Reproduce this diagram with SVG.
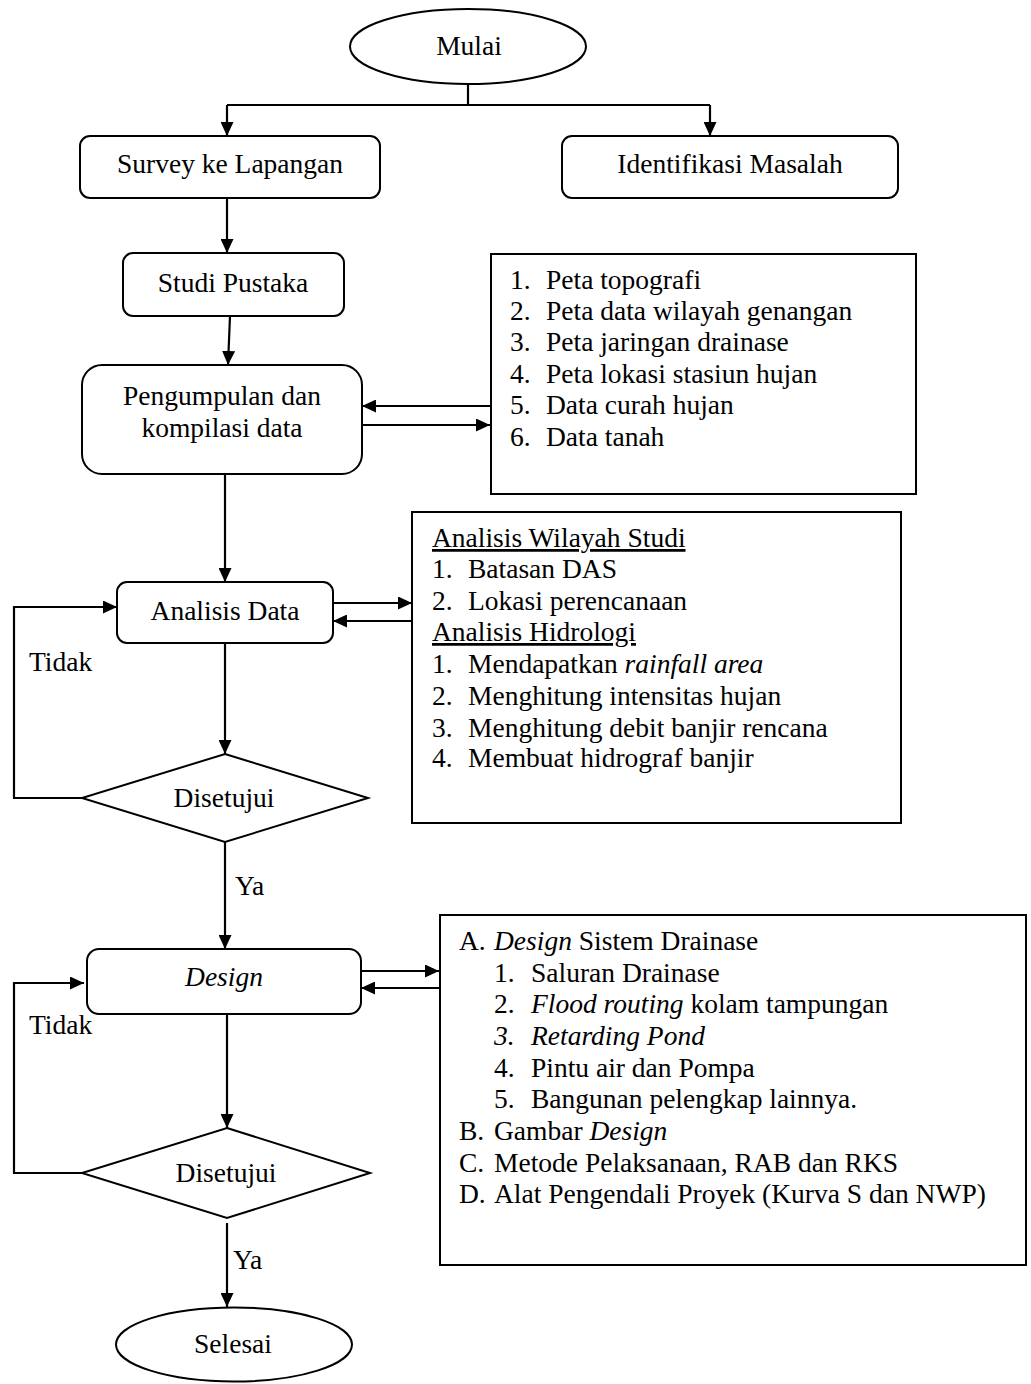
<svg xmlns="http://www.w3.org/2000/svg" width="1031" height="1384" viewBox="0 0 1031 1384">
<style>
  text { font-family: "Liberation Serif", "Times New Roman", serif; font-size: 27.5px; fill: #000; }
  .c { text-anchor: middle; }
  .shape { fill: #fff; stroke: #000; stroke-width: 2; }
  .conn { fill: none; stroke: #000; stroke-width: 2.2; }
  .i { font-style: italic; }
  .u { text-decoration: underline; }
</style>
<defs>
  <marker id="arr" viewBox="0 0 14 13" refX="14" refY="6.5" markerWidth="14" markerHeight="13" markerUnits="userSpaceOnUse" orient="auto">
    <path d="M0,0 L14,6.5 L0,13 Z" fill="#000"/>
  </marker>
</defs>
<rect width="1031" height="1384" fill="#fff"/>

<g id="connectors">
  <path class="conn" d="M468,84 L468,105"/>
  <path class="conn" d="M227,105 L710,105"/>
  <path class="conn" d="M227,105 L227,136" marker-end="url(#arr)"/>
  <path class="conn" d="M710,105 L710,136" marker-end="url(#arr)"/>
  <path class="conn" d="M227,198 L227,253" marker-end="url(#arr)"/>
  <path class="conn" d="M230,316 L228,365" marker-end="url(#arr)"/>
  <path class="conn" d="M490,406 L362,406" marker-end="url(#arr)"/>
  <path class="conn" d="M362,425 L490,425" marker-end="url(#arr)"/>
  <path class="conn" d="M225,474 L225,582" marker-end="url(#arr)"/>
  <path class="conn" d="M333,603 L412,603" marker-end="url(#arr)"/>
  <path class="conn" d="M412,621 L333,621" marker-end="url(#arr)"/>
  <path class="conn" d="M225,643 L225,754" marker-end="url(#arr)"/>
  <path class="conn" d="M82,798 L14,798 L14,607 L117,607" marker-end="url(#arr)"/>
  <path class="conn" d="M225,842 L225,949" marker-end="url(#arr)"/>
  <path class="conn" d="M361,971 L439,971" marker-end="url(#arr)"/>
  <path class="conn" d="M439,988 L361,988" marker-end="url(#arr)"/>
  <path class="conn" d="M227,1014 L227,1128" marker-end="url(#arr)"/>
  <path class="conn" d="M82,1173 L14,1173 L14,983 L84,983" marker-end="url(#arr)"/>
  <path class="conn" d="M227,1223 L227,1307" marker-end="url(#arr)"/>
  <text x="29" y="671">Tidak</text>
  <text x="29" y="1034">Tidak</text>
  <text x="235" y="895">Ya</text>
  <text x="233" y="1269">Ya</text>
</g>

<g id="mulai">
  <ellipse class="shape" cx="468" cy="46.5" rx="118" ry="37.5"/>
  <text class="c" x="469" y="55">Mulai</text>
</g>

<g id="survey">
  <rect class="shape" x="80" y="136" width="300" height="62" rx="10"/>
  <text class="c" x="230" y="173">Survey ke Lapangan</text>
</g>

<g id="identifikasi">
  <rect class="shape" x="562" y="136" width="336" height="62" rx="10"/>
  <text class="c" x="730" y="173">Identifikasi Masalah</text>
</g>

<g id="studi">
  <rect class="shape" x="123" y="253" width="221" height="63" rx="10"/>
  <text class="c" x="233" y="292">Studi Pustaka</text>
</g>

<g id="pengumpulan">
  <rect class="shape" x="82" y="365" width="280" height="109" rx="20"/>
  <text class="c" x="222" y="405">Pengumpulan dan</text>
  <text class="c" x="222" y="437">kompilasi data</text>
</g>

<g id="data-list">
  <rect class="shape" x="491" y="254" width="425" height="240"/>
  <text x="510" y="289">1.</text><text x="546" y="289">Peta topografi</text>
  <text x="510" y="320">2.</text><text x="546" y="320">Peta data wilayah genangan</text>
  <text x="510" y="351">3.</text><text x="546" y="351">Peta jaringan drainase</text>
  <text x="510" y="383">4.</text><text x="546" y="383">Peta lokasi stasiun hujan</text>
  <text x="510" y="414">5.</text><text x="546" y="414">Data curah hujan</text>
  <text x="510" y="446">6.</text><text x="546" y="446">Data tanah</text>
</g>

<g id="analisis-data">
  <rect class="shape" x="117" y="582" width="216" height="61" rx="10"/>
  <text class="c" x="225" y="620">Analisis Data</text>
</g>

<g id="analisis-list">
  <rect class="shape" x="412" y="512" width="489" height="311"/>
  <text class="u" x="432" y="547">Analisis Wilayah Studi</text>
  <text x="432" y="578">1.</text><text x="468" y="578">Batasan DAS</text>
  <text x="432" y="610">2.</text><text x="468" y="610">Lokasi perencanaan</text>
  <text class="u" x="432" y="641">Analisis Hidrologi</text>
  <text x="432" y="673">1.</text><text x="468" y="673">Mendapatkan <tspan class="i">rainfall area</tspan></text>
  <text x="432" y="705">2.</text><text x="468" y="705">Menghitung intensitas hujan</text>
  <text x="432" y="737">3.</text><text x="468" y="737">Menghitung debit banjir rencana</text>
  <text x="432" y="767">4.</text><text x="468" y="767">Membuat hidrograf banjir</text>
</g>

<g id="disetujui-1">
  <polygon class="shape" points="225,754 368,798 225,842 82,798"/>
  <text class="c" x="224" y="807">Disetujui</text>
</g>

<g id="design">
  <rect class="shape" x="87" y="949" width="274" height="65" rx="12"/>
  <text class="c i" x="224" y="986">Design</text>
</g>

<g id="design-list">
  <rect class="shape" x="440" y="915" width="586" height="350"/>
  <text x="459" y="950">A.</text><text x="494" y="950"><tspan class="i">Design</tspan> Sistem Drainase</text>
  <text x="494" y="982">1.</text><text x="531" y="982">Saluran Drainase</text>
  <text x="494" y="1013">2.</text><text x="531" y="1013"><tspan class="i">Flood routing</tspan> kolam tampungan</text>
  <text class="i" x="494" y="1045">3.</text><text class="i" x="531" y="1045">Retarding Pond</text>
  <text x="494" y="1077">4.</text><text x="531" y="1077">Pintu air dan Pompa</text>
  <text x="494" y="1108">5.</text><text x="531" y="1108">Bangunan pelengkap lainnya.</text>
  <text x="459" y="1140">B.</text><text x="494" y="1140">Gambar <tspan class="i">Design</tspan></text>
  <text x="459" y="1172">C.</text><text x="494" y="1172">Metode Pelaksanaan, RAB dan RKS</text>
  <text x="459" y="1203">D.</text><text x="494" y="1203">Alat Pengendali Proyek (Kurva S dan NWP)</text>
</g>

<g id="disetujui-2">
  <polygon class="shape" points="227,1128 370,1173 227,1218 82,1173"/>
  <text class="c" x="226" y="1182">Disetujui</text>
</g>

<g id="selesai">
  <ellipse class="shape" cx="234" cy="1344.5" rx="118" ry="37"/>
  <text class="c" x="233" y="1353">Selesai</text>
</g>
</svg>
